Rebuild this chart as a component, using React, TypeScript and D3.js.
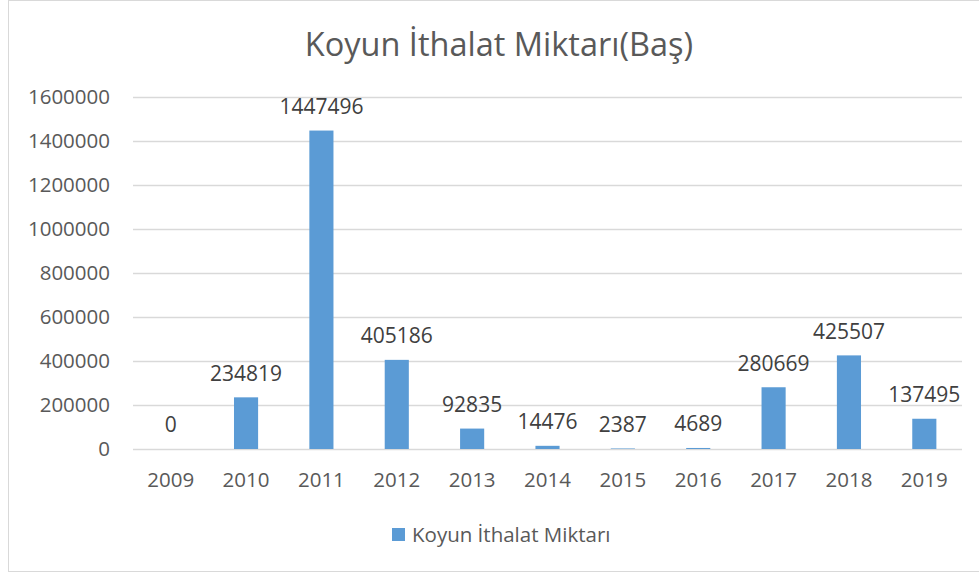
import React from "react";
import * as d3 from "d3";

const years = ["2009", "2010", "2011", "2012", "2013", "2014", "2015", "2016", "2017", "2018", "2019"];
const values = [0, 234819, 1447496, 405186, 92835, 14476, 2387, 4689, 280669, 425507, 137495];
const yTicks = [0, 200000, 400000, 600000, 800000, 1000000, 1200000, 1400000, 1600000];
const title = "Koyun İthalat Miktarı(Baş)";
const seriesName = "Koyun İthalat Miktarı";

const W = 979;
const H = 573;
const font = "'Open Sans', sans-serif";
const textColor = "#595959";
const barColor = "#5b9bd5";

export default function App() {
  const x = d3.scaleBand().domain(years).range([133, 962]).paddingInner(0.68).paddingOuter(0.34);
  const y = d3.scaleLinear().domain([0, 1600000]).range([449, 97]);

  return (
    <svg width={W} height={H} style={{ position: "absolute", left: 0, top: 0 }}>
      <rect x={0} y={0} width={W} height={H} fill="#fff" />
      <rect x={8.5} y={0.5} width={W + 10} height={571} fill="none" stroke="#d9d9d9" />
      <text x={499} y={56} textAnchor="middle" fontFamily={font} fontSize={32.5} fill={textColor}>
        {title}
      </text>
      {yTicks.map(t => (
        <g key={t}>
          <line x1={133} x2={962} y1={y(t) + 0.5} y2={y(t) + 0.5} stroke="#d9d9d9" strokeWidth={1.5} />
          <text x={110} y={y(t)} dy="0.35em" textAnchor="end" fontFamily={font} fontSize={20.5} fill={textColor}>
            {t}
          </text>
        </g>
      ))}
      {years.map((yr, i) => {
        const bx = x(yr) as number;
        const cx = bx + x.bandwidth() / 2;
        return (
          <g key={yr}>
            <rect x={bx} y={y(values[i])} width={x.bandwidth()} height={y(0) - y(values[i])} fill={barColor} />
            <text x={cx} y={y(values[i]) - 24} dy="0.35em" textAnchor="middle" fontFamily={font} fontSize={21} fill="#404040">
              {values[i]}
            </text>
            <text x={cx} y={480} dy="0.35em" textAnchor="middle" fontFamily={font} fontSize={20.5} fill={textColor}>
              {yr}
            </text>
          </g>
        );
      })}
      <rect x={392} y={528} width={13} height={13} fill={barColor} />
      <text x={412} y={535} dy="0.35em" fontFamily={font} fontSize={20.5} fill={textColor}>
        {seriesName}
      </text>
    </svg>
  );
}
